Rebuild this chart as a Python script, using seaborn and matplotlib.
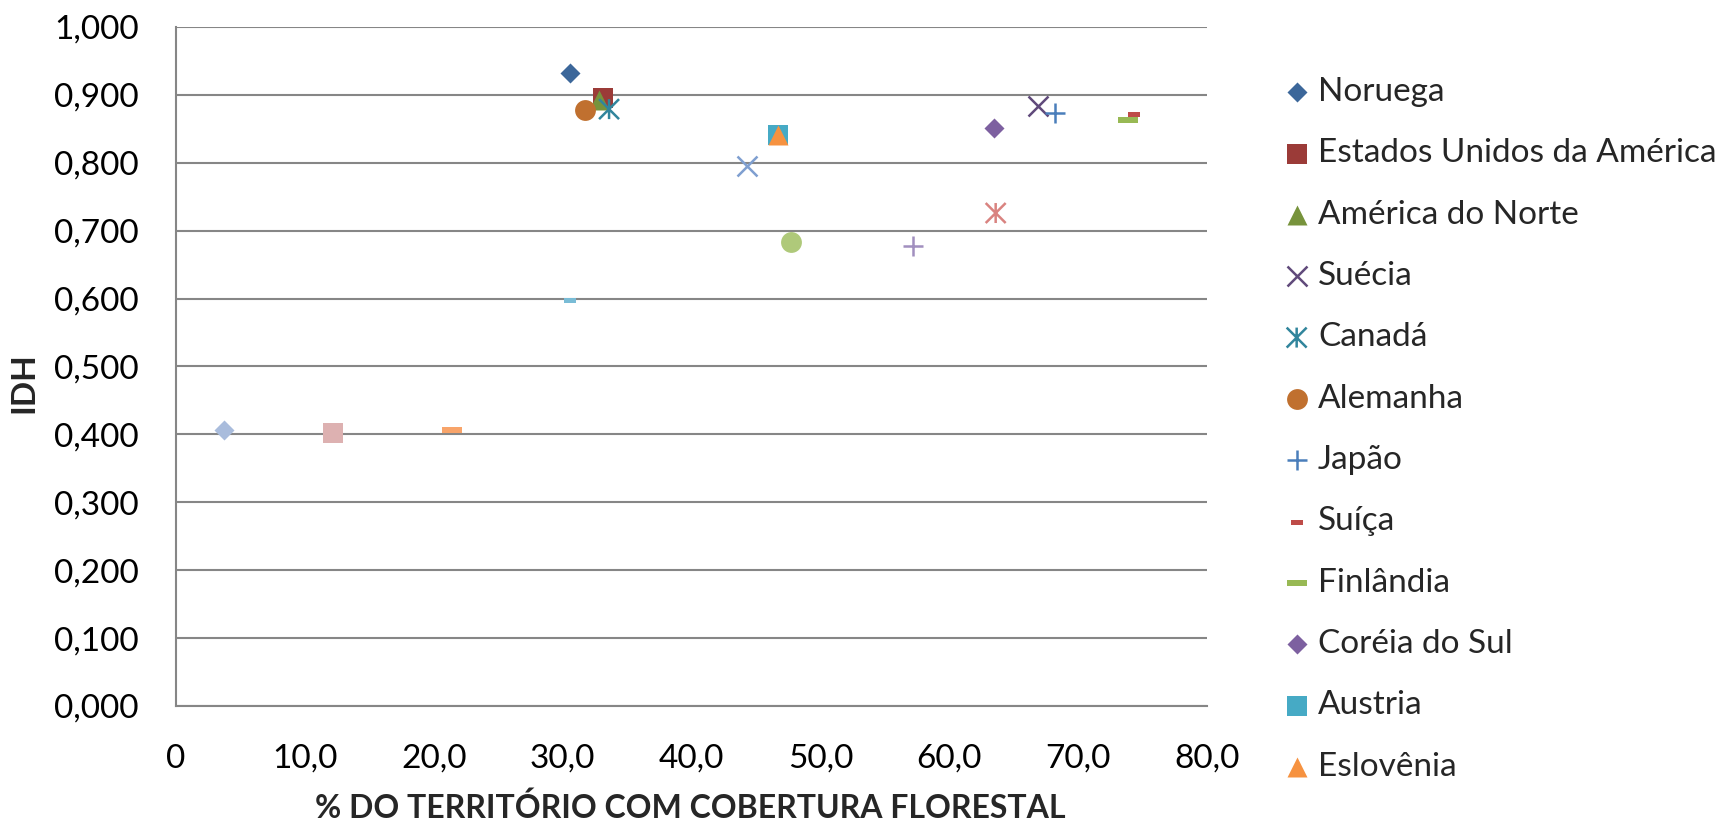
import matplotlib
matplotlib.use("Agg")
import matplotlib.pyplot as plt
from matplotlib.path import Path
import seaborn as sns

# Países com nome na legenda
paises = ["Noruega", "Estados Unidos da América", "América do Norte", "Suécia",
          "Canadá", "Alemanha", "Japão", "Suíça", "Finlândia", "Coréia do Sul",
          "Austria", "Eslovênia"]
cobertura = [30.6, 33.1, 32.8, 66.9, 33.6, 31.7, 68.2, 74.3, 73.9, 63.5, 46.7, 46.7]
idh = [0.932, 0.895, 0.893, 0.883, 0.879, 0.878, 0.873, 0.872, 0.863, 0.851, 0.841, 0.841]

# Demais séries do gráfico (sem entrada na legenda)
outros_cobertura = [44.3, 63.6, 47.7, 57.2, 30.6, 3.7, 12.2, 21.4]
outros_idh = [0.795, 0.726, 0.683, 0.678, 0.598, 0.406, 0.402, 0.406]

x_ticks = [0, 10, 20, 30, 40, 50, 60, 70, 80]
x_tick_labels = ["0", "10,0", "20,0", "30,0", "40,0", "50,0", "60,0", "70,0", "80,0"]
y_ticks = [0.0, 0.1, 0.2, 0.3, 0.4, 0.5, 0.6, 0.7, 0.8, 0.9, 1.0]
y_tick_labels = ["0,000", "0,100", "0,200", "0,300", "0,400", "0,500",
                 "0,600", "0,700", "0,800", "0,900", "1,000"]

# Marcadores no estilo de planilha
ASTERISCO = Path([(-0.5, -0.5), (0.5, 0.5), (-0.5, 0.5), (0.5, -0.5), (0, -0.5), (0, 0.5)],
                 [Path.MOVETO, Path.LINETO, Path.MOVETO, Path.LINETO, Path.MOVETO, Path.LINETO])
TRACO_LONGO = Path([(-1, -0.24), (1, -0.24), (1, 0.24), (-1, 0.24), (-1, -0.24)],
                   [Path.MOVETO, Path.LINETO, Path.LINETO, Path.LINETO, Path.CLOSEPOLY])
TRACO_CURTO = Path([(-1, -0.45), (1, -0.45), (1, 0.45), (-1, 0.45), (-1, -0.45)],
                   [Path.MOVETO, Path.LINETO, Path.LINETO, Path.LINETO, Path.CLOSEPOLY])

# (marcador, tamanho, cor, tipo) — tipo: "cheio", "linha" ou "caminho"
estilos = [
    ("D", 104, "#3C679A", "cheio"),
    ("s", 207, "#9B3B38", "cheio"),
    ("^", 207, "#77933C", "cheio"),
    ("x", 207, "#604A7B", "linha"),
    (ASTERISCO, 207, "#31859C", "caminho"),
    ("o", 225, "#C0702F", "cheio"),
    ("+", 190, "#4A7EBB", "linha"),
    (TRACO_CURTO, 64, "#BE4B48", "cheio"),
    (TRACO_LONGO, 227, "#98B954", "cheio"),
    ("D", 104, "#7D60A0", "cheio"),
    ("s", 207, "#46AAC5", "cheio"),
    ("^", 207, "#F69240", "cheio"),
]
estilos_outros = [
    ("x", 207, "#7F9FD0", "linha"),
    (ASTERISCO, 207, "#D98380", "caminho"),
    ("o", 225, "#AFC97A", "cheio"),
    ("+", 190, "#A18FBF", "linha"),
    (TRACO_CURTO, 64, "#79BCD6", "cheio"),
    ("D", 104, "#A9BCDC", "cheio"),
    ("s", 207, "#DDB1B1", "cheio"),
    (TRACO_LONGO, 227, "#F8A46A", "cheio"),
]

sns.set_theme(style="white")
plt.rcParams["font.family"] = ["Lato", "DejaVu Sans"]
FONTE = 24

fig = plt.figure(figsize=(17.31, 8.22), dpi=100)
ax = fig.add_axes([0.1017, 0.1411, 0.5956, 0.8261])


def desenha(x, y, estilo, rotulo):
    marker, s, cor, tipo = estilo
    kws = dict(marker=marker, s=s, color=cor, zorder=3, ax=ax, label=rotulo)
    if tipo == "cheio":
        kws["edgecolor"] = cor
        kws["linewidth"] = 0
    elif tipo == "linha":
        kws["linewidth"] = 1.8
    else:
        kws["edgecolor"] = cor
        kws["facecolor"] = "none"
        kws["linewidth"] = 1.8
    sns.scatterplot(x=[x], y=[y], **kws)


for nome, xv, yv, est in zip(paises, cobertura, idh, estilos):
    desenha(xv, yv, est, nome)
for i, (xv, yv, est) in enumerate(zip(outros_cobertura, outros_idh, estilos_outros)):
    desenha(xv, yv, est, f"_serie{i + 13}")

ax.set_xlim(0, 80)
ax.set_ylim(0, 1.0)
ax.set_xticks(x_ticks)
ax.set_xticklabels(x_tick_labels)
ax.set_yticks(y_ticks)
ax.set_yticklabels(y_tick_labels)
ax.tick_params(axis="both", length=0, labelsize=FONTE, colors="black")
ax.tick_params(axis="y", pad=27)
ax.tick_params(axis="x", pad=27)

ax.grid(axis="y", color="#868686", linewidth=1.5, zorder=0)
ax.grid(axis="x", visible=False)
for lado in ("top", "right"):
    ax.spines[lado].set_visible(False)
for lado in ("left", "bottom"):
    ax.spines[lado].set_color("#868686")
    ax.spines[lado].set_linewidth(1.5)
ax.set_axisbelow(True)

ax.set_xlabel("% DO TERRITÓRIO COM COBERTURA FLORESTAL", fontsize=23, fontweight="bold")
ax.set_ylabel("IDH", fontsize=FONTE, fontweight="bold")
ax.xaxis.set_label_coords(0.4985, -0.127)
ax.yaxis.set_label_coords(-0.134, 0.476)

ax.legend(loc="upper left", bbox_to_anchor=(1280 / 1731, (822 - 77) / 822),
          bbox_transform=fig.transFigure, frameon=False, fontsize=FONTE,
          handlelength=1.0, handletextpad=0.14, labelspacing=0.94, borderpad=0,
          borderaxespad=0, scatterpoints=1)

fig.savefig("out.png", dpi=100)
